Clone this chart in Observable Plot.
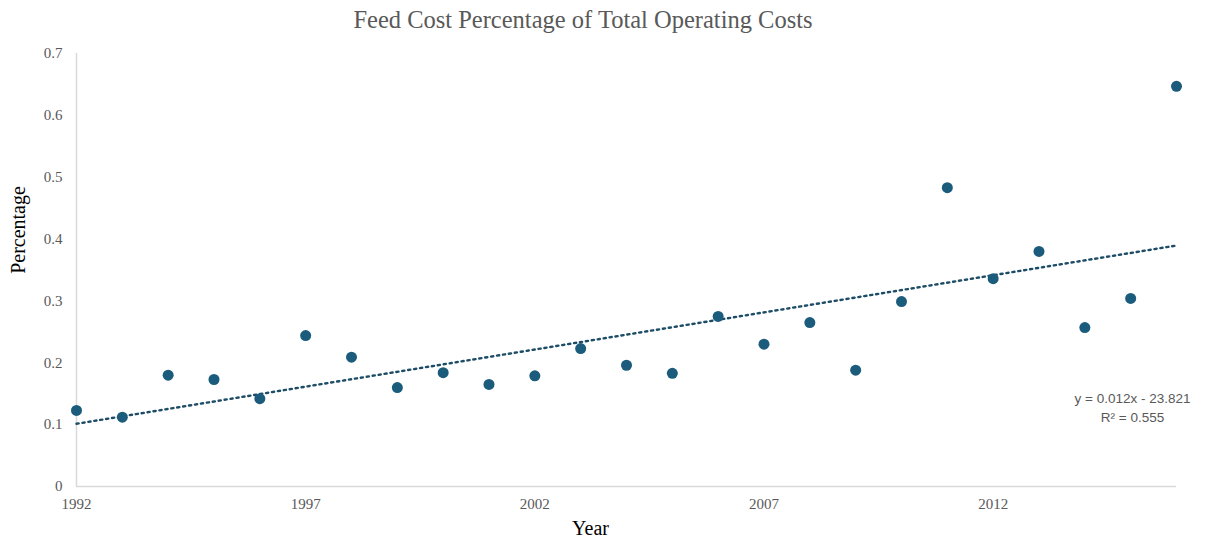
<!DOCTYPE html>
<html>
<head>
<meta charset="utf-8">
<script src="https://cdn.jsdelivr.net/npm/d3@7"></script>
<script src="https://cdn.jsdelivr.net/npm/@observablehq/plot@0.6"></script>
<style>
  html, body { margin: 0; padding: 0; background: #fff; }
  #title {
    height: 40px;
    line-height: 40px;
    font-family: "Liberation Serif", "Times New Roman", serif;
    font-size: 24.5px;
    color: #595959;
    text-align: center;
    width: 1166px;
  }
</style>
</head>
<body>
<div id="title">Feed Cost Percentage of Total Operating Costs</div>
<div id="chart"></div>
<script>
// Share of feed in total operating costs, by year
const years = [1992, 1993, 1994, 1995, 1996, 1997, 1998, 1999, 2000, 2001, 2002, 2003,
               2004, 2005, 2006, 2007, 2008, 2009, 2010, 2011, 2012, 2013, 2014, 2015, 2016];
const feedShare = [0.123, 0.112, 0.180, 0.173, 0.142, 0.244, 0.209, 0.160, 0.184, 0.165, 0.179, 0.223,
                   0.196, 0.183, 0.275, 0.230, 0.265, 0.188, 0.299, 0.483, 0.336, 0.380, 0.257, 0.304, 0.647];
const xTicks = [1992, 1997, 2002, 2007, 2012];
const yTicks = [0, 0.1, 0.2, 0.3, 0.4, 0.5, 0.6, 0.7];
const trendLabel = ["y = 0.012x - 23.821", "R² = 0.555"];

const data = years.map((year, i) => ({year, share: feedShare[i]}));

const serif = "'Liberation Serif', 'Times New Roman', serif";
const axisGray = "#d9d9d9";
const textGray = "#595959";

const chart = Plot.plot({
  width: 1206,
  height: 498,
  marginTop: 13,
  marginBottom: 52,
  marginLeft: 76,
  marginRight: 30,
  style: {fontFamily: serif, fontSize: "15px", color: textGray, background: "#fff"},
  x: {domain: [1992, 2016]},
  y: {domain: [0, 0.7]},
  marks: [
    Plot.ruleX([1992], {stroke: axisGray, strokeWidth: 1.5}),
    Plot.ruleY([0], {stroke: axisGray, strokeWidth: 1.5}),
    Plot.axisX({ticks: xTicks, tickFormat: d => String(d), tickSize: 0, tickPadding: 12,
                label: null, fill: textGray, fontSize: 15}),
    Plot.axisY({ticks: yTicks, tickFormat: d => d === 0 ? "0" : d.toFixed(1), tickSize: 0,
                tickPadding: 14, label: null, fill: textGray, fontSize: 15}),
    // least-squares trend through the yearly values, drawn dotted
    Plot.linearRegressionY(data, {x: "year", y: "share", ci: 0, stroke: "#1d4d66",
                                  strokeWidth: 2.4, strokeDasharray: "2.2,3.8"}),
    Plot.dot(data, {x: "year", y: "share", r: 5.5, fill: "#1b5c7c", stroke: "none"}),
    Plot.text([trendLabel.join("\n")], {frameAnchor: "bottom-right", dx: -44, dy: -65,
              textAnchor: "middle", lineHeight: 1.35, fontFamily: "'Liberation Sans', Arial, sans-serif",
              fontSize: 13.5, fill: textGray}),
    Plot.text(["Year"], {frameAnchor: "bottom", dx: -36, dy: 48, fontSize: 20, fill: "#000"}),
    Plot.text(["Percentage"], {frameAnchor: "left", dx: -58, dy: -40, rotate: -90,
              textAnchor: "middle", fontSize: 20, fill: "#000"})
  ]
});

document.getElementById("chart").appendChild(chart);
</script>
</body>
</html>
